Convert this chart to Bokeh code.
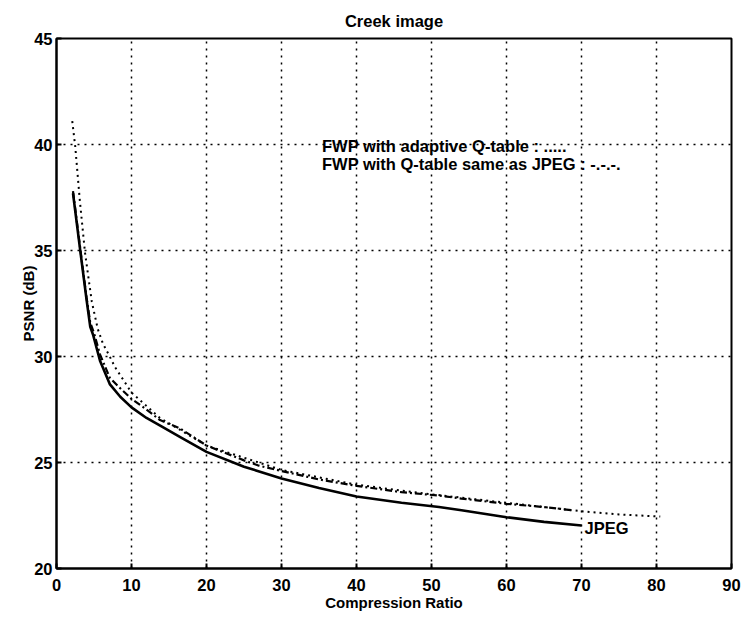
from bokeh.plotting import figure
from bokeh.embed import file_html
from bokeh.resources import INLINE
from bokeh.models import FixedTicker, Range1d
from bokeh.core.properties import value

# --- data ---
jpeg_x = [2.2, 3.2, 4.0, 4.5, 4.9, 5.8, 7.1, 8.5, 10, 12, 14, 16.5, 20, 25, 30, 35, 40, 46, 51, 54, 60, 65, 70]
jpeg_y = [37.7, 34.9, 32.7, 31.4, 31.0, 29.8, 28.7, 28.1, 27.6, 27.1, 26.7, 26.2, 25.5, 24.8, 24.25, 23.8, 23.4, 23.1, 22.9, 22.75, 22.42, 22.2, 22.03]

fwp_same_x = [2.2, 3.2, 4.0, 4.5, 5.0, 5.8, 7.1, 8.5, 10, 12, 13.8, 16.5, 20, 25, 27, 30, 35, 40, 46, 51, 54, 60, 65, 69]
fwp_same_y = [37.8, 35.0, 32.8, 31.6, 31.1, 30.1, 29.0, 28.5, 28.0, 27.5, 27.0, 26.6, 25.8, 25.1, 24.85, 24.6, 24.2, 23.9, 23.6, 23.44, 23.3, 23.05, 22.9, 22.74]

fwp_adapt_x = [2.1, 2.5, 3.1, 3.8, 4.7, 5.5, 6.2, 7.1, 7.8, 10, 13.8, 20, 30, 40, 50, 60, 70, 75, 80.5]
fwp_adapt_y = [41.1, 39.9, 37.4, 34.9, 32.6, 31.3, 30.6, 30.0, 29.5, 28.3, 27.1, 25.8, 24.65, 23.95, 23.5, 23.1, 22.7, 22.55, 22.45]

x_ticks = [0, 10, 20, 30, 40, 50, 60, 70, 80, 90]
y_ticks = [20, 25, 30, 35, 40, 45]

legend_lines = ["FWP with adaptive Q-table : .....", "FWP with Q-table same as JPEG : -.-.-."]
legend_x = [35.4, 35.4]
legend_y = [39.95, 39.1]
jpeg_label = ["JPEG"]
jpeg_label_x = [70.4]
jpeg_label_y = [21.9]

FONT = "Liberation Sans"

p = figure(width=741, height=616, output_backend="svg", toolbar_location=None,
           x_range=Range1d(0, 90), y_range=Range1d(20, 45),
           frame_width=675, frame_height=530,
           min_border_left=56, min_border_right=10, min_border_top=38, min_border_bottom=30,
           title="Creek image")

p.title.text_font = FONT
p.title.text_font_size = "16.5px"
p.title.text_font_style = "bold"
p.title.text_color = "black"
p.title.align = "center"
p.title.offset = 0
p.title.standoff = 17

p.outline_line_color = "black"
p.outline_line_width = 2
p.outline_line_alpha = 1
p.background_fill_color = "white"
p.border_fill_color = "white"

for ax in (p.xaxis[0], p.yaxis[0]):
    ax.axis_line_width = 2
    ax.axis_line_color = "black"
    ax.major_tick_in = 5
    ax.major_tick_out = 0
    ax.major_tick_line_width = 2
    ax.major_tick_line_color = "black"
    ax.minor_tick_line_color = None
    ax.major_label_text_font = FONT
    ax.major_label_text_font_size = "16.5px"
    ax.major_label_text_font_style = "bold"
    ax.major_label_text_color = "black"
    ax.axis_label_text_font = FONT
    ax.axis_label_text_font_size = "15px"
    ax.axis_label_text_font_style = "bold"
    ax.axis_label_text_color = "black"

p.xaxis[0].major_label_standoff = 10
p.xaxis[0].axis_label_standoff = 0
p.yaxis[0].major_label_standoff = 4
p.yaxis[0].axis_label_standoff = -6

p.xaxis[0].ticker = FixedTicker(ticks=x_ticks)
p.yaxis[0].ticker = FixedTicker(ticks=y_ticks)
p.xaxis[0].axis_label = "Compression Ratio"
p.yaxis[0].axis_label = "PSNR (dB)"

for g in (p.xgrid[0], p.ygrid[0]):
    g.grid_line_color = "black"
    g.grid_line_dash = "2 5"
    g.grid_line_width = 1.5
    g.grid_line_alpha = 1

p.xgrid[0].ticker = FixedTicker(ticks=x_ticks)
p.ygrid[0].ticker = FixedTicker(ticks=y_ticks)

p.line(fwp_adapt_x, fwp_adapt_y, line_color="black", line_width=2, line_dash="2 4")
p.line(fwp_same_x, fwp_same_y, line_color="black", line_width=2.2, line_dash="7 3 2 3")
p.line(jpeg_x, jpeg_y, line_color="black", line_width=2.6)

p.text(x=legend_x, y=legend_y, text=legend_lines, text_font=value(FONT),
       text_font_size="16.5px", text_font_style="bold", text_color="black",
       text_align="left", text_baseline="middle")
p.text(x=jpeg_label_x, y=jpeg_label_y, text=jpeg_label, text_font=value(FONT),
       text_font_size="16.5px", text_font_style="bold", text_color="black",
       text_align="left", text_baseline="middle")

open("out.html", "w").write(file_html(p, INLINE))
